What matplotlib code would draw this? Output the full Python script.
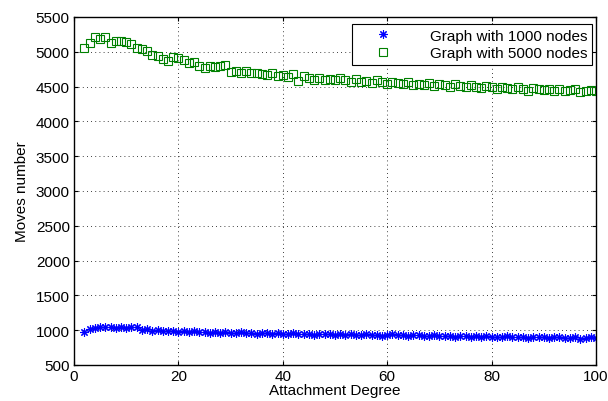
import matplotlib
matplotlib.use("Agg")
import matplotlib.pyplot as plt

plt.rcParams['font.family'] = ['Liberation Sans', 'DejaVu Sans']

# attachment degree 2..100
degree = list(range(2, 101))

nodes_1000 = [
    980, 1010, 1030, 1050, 1040, 1050, 1030, 1040, 1030, 1045,
    1050, 1000, 1010, 990, 1000, 995, 985, 990, 980, 985,
    975, 990, 970, 980, 965, 975, 960, 970, 965, 960,
    970, 955, 960, 950, 965, 955, 950, 960, 945, 950,
    955, 940, 950, 945, 935, 950, 940, 945, 930, 940,
    935, 945, 930, 925, 940, 930, 935, 920, 935, 940,
    925, 930, 915, 925, 930, 920, 915, 925, 910, 920,
    915, 905, 920, 910, 900, 915, 905, 910, 895, 905,
    900, 910, 895, 905, 900, 890, 905, 895, 900, 885,
    895, 900, 890, 885, 895, 880, 890, 895, 885,
]

nodes_5000 = [
    5060, 5120, 5210, 5190, 5210, 5130, 5150, 5160, 5140, 5110,
    5060, 5040, 5010, 4960, 4940, 4900, 4870, 4920, 4910, 4880,
    4840, 4860, 4790, 4760, 4800, 4780, 4790, 4810, 4710, 4720,
    4700, 4730, 4690, 4700, 4680, 4660, 4700, 4650, 4660, 4640,
    4680, 4580, 4650, 4620, 4600, 4620, 4590, 4610, 4600, 4620,
    4590, 4570, 4610, 4560, 4580, 4550, 4600, 4560, 4540, 4570,
    4550, 4530, 4560, 4520, 4540, 4520, 4550, 4510, 4530, 4520,
    4500, 4540, 4510, 4490, 4520, 4500, 4480, 4510, 4490, 4470,
    4500, 4480, 4460, 4490, 4470, 4440, 4480, 4460, 4450, 4470,
    4440, 4460, 4430, 4450, 4460, 4420, 4440, 4450, 4430,
]

fs = 11

fig = plt.figure(figsize=(6.08, 4.02), dpi=100)
ax = fig.add_axes([0.1217, 0.0896, 0.8586, 0.8657])

ax.plot(degree, nodes_1000, linestyle='none', marker=(8, 2, 0), markersize=6,
        color='blue', markeredgewidth=0.8, label='Graph with 1000 nodes')
ax.plot(degree, nodes_5000, linestyle='none', marker='s', markersize=5.5,
        markerfacecolor='none', markeredgecolor='green', markeredgewidth=0.8,
        label='Graph with 5000 nodes')

ax.set_xlim(0, 100)
ax.set_ylim(500, 5500)
ax.set_xticks(range(0, 101, 20))
ax.set_yticks(range(500, 5501, 500))
ax.tick_params(direction='in', labelsize=fs, top=True, right=True, length=3, pad=3)
ax.grid(True, linestyle=(0, (1, 4)), color='black', linewidth=0.6)
for sp in ax.spines.values():
    sp.set_linewidth(1.0)

ax.set_xlabel('Attachment Degree', fontsize=fs, labelpad=0)
ax.set_ylabel('Moves number', fontsize=fs, labelpad=5)

leg = ax.legend(loc='upper right', bbox_to_anchor=(0.9737, 0.9378),
                bbox_transform=fig.transFigure, fontsize=fs, fancybox=False,
                framealpha=1, edgecolor='black', borderaxespad=0,
                handletextpad=1.4, handlelength=3.4, borderpad=0.3,
                labelspacing=0.25)
leg.get_frame().set_linewidth(0.8)

fig.savefig('out.png', dpi=100)
